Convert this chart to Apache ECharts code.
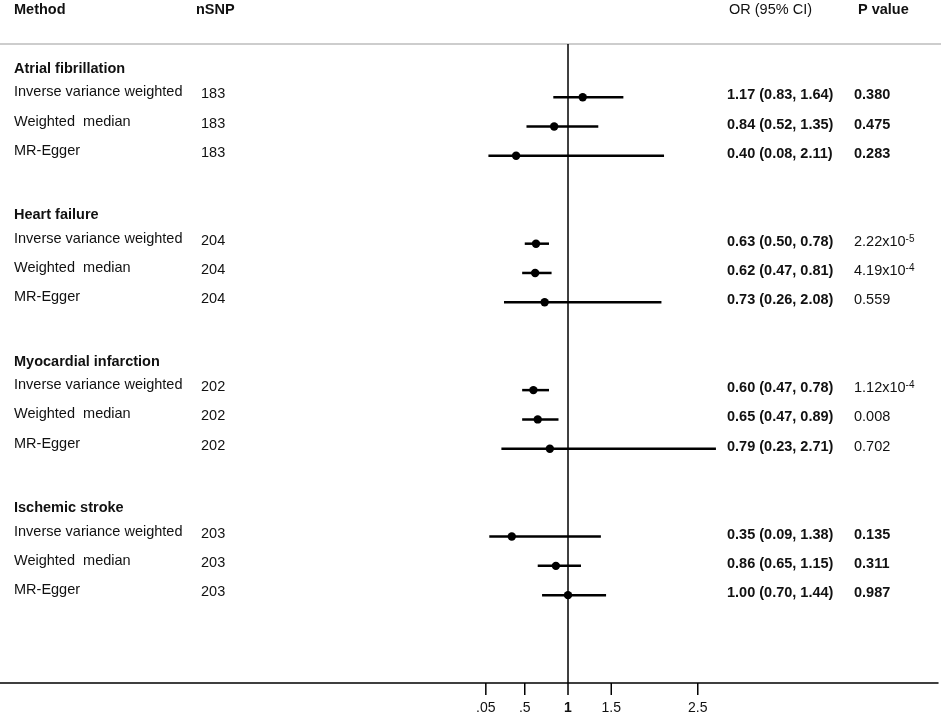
<!DOCTYPE html>
<html>
<head>
<meta charset="utf-8">
<script src="https://cdn.jsdelivr.net/npm/echarts@6/dist/echarts.min.js"></script>
<style>
  html, body { margin: 0; padding: 0; background: #fff; }
  #chart { width: 941px; height: 713px; }
</style>
</head>
<body>
<div id="chart"></div>
<script>
// forest plot data
const groups = ['Atrial fibrillation', 'Heart failure', 'Myocardial infarction', 'Ischemic stroke'];
const methods = ['Inverse variance weighted', 'Weighted  median', 'MR-Egger'];
const nSNP = [183, 204, 202, 203];
const orValues = [1.17, 0.84, 0.40, 0.63, 0.62, 0.73, 0.60, 0.65, 0.79, 0.35, 0.86, 1.00];
const ciLower = [0.83, 0.52, 0.08, 0.50, 0.47, 0.26, 0.47, 0.47, 0.23, 0.09, 0.65, 0.70];
const ciUpper = [1.64, 1.35, 2.11, 0.78, 0.81, 2.08, 0.78, 0.89, 2.71, 1.38, 1.15, 1.44];
const pValues = ['0.380', '0.475', '0.283', '2.22x10^-5', '4.19x10^-4', '0.559',
                 '1.12x10^-4', '0.008', '0.702', '0.135', '0.311', '0.987'];
const pBold = [1, 1, 1, 0, 0, 0, 0, 0, 0, 1, 1, 1];
const tickValues = [0.05, 0.5, 1, 1.5, 2.5];
const tickLabels = ['.05', '.5', '1', '1.5', '2.5'];

const FONT = '"Liberation Sans", Arial, sans-serif';
const INK = '#111';
const FS = 14.5;

// row index on the y axis: group title at 5g, its methods at 5g+1..5g+3
const rowIdx = i => Math.floor(i / 3) * 5 + 1 + (i % 3);

const ciData = orValues.map((v, i) => [v, ciLower[i], ciUpper[i], rowIdx(i)]);

// text cells: [rowIdx, text, x, bold, dy]
const cells = [];
groups.forEach((g, gi) => cells.push([gi * 5, g, 14, true, 1]));
orValues.forEach((v, i) => {
  const r = rowIdx(i);
  cells.push([r, methods[i % 3], 14, false, -5]);
  cells.push([r, String(nSNP[Math.floor(i / 3)]), 201, false, -3]);
  cells.push([r, v.toFixed(2) + ' (' + ciLower[i].toFixed(2) + ', ' + ciUpper[i].toFixed(2) + ')', 727, true, -2]);
  const p = pValues[i].split('^');
  cells.push([r, p.length > 1 ? p[0] + '{sup|' + p[1] + '}' : p[0], 854, !!pBold[i], -2]);
});

const chart = echarts.init(document.getElementById('chart'));

chart.setOption({
  animation: false,
  backgroundColor: '#fff',
  grid: { left: 0, right: 3, top: 0, bottom: 30 },
  xAxis: {
    type: 'value', min: -5.566, max: 5.277,
    axisLine: { show: true, onZero: false, lineStyle: { color: '#000', width: 1.5 } },
    axisTick: { show: false }, axisLabel: { show: false }, splitLine: { show: false }
  },
  yAxis: {
    type: 'value', inverse: true, min: -2.32, max: 21, show: false, splitLine: { show: false }
  },
  graphic: [
    { type: 'line', shape: { x1: 0, y1: 44, x2: 941, y2: 44 }, style: { stroke: '#bdbdbd', lineWidth: 1.5 } },
    { type: 'text', x: 14, y: 10, style: { text: 'Method', font: 'bold ' + FS + 'px ' + FONT, fill: INK, verticalAlign: 'middle' } },
    { type: 'text', x: 196, y: 10, style: { text: 'nSNP', font: 'bold ' + FS + 'px ' + FONT, fill: INK, verticalAlign: 'middle' } },
    { type: 'text', x: 729, y: 10, style: { text: 'OR (95% CI)', font: FS + 'px ' + FONT, fill: INK, verticalAlign: 'middle' } },
    { type: 'text', x: 858, y: 10, style: { text: 'P value', font: 'bold ' + FS + 'px ' + FONT, fill: INK, verticalAlign: 'middle' } }
  ],
  series: [
    {
      // reference line at OR = 1
      type: 'custom',
      data: [[1]],
      renderItem: (params, api) => {
        const top = api.coord([api.value(0), -0.818]);
        const bot = api.coord([api.value(0), 21]);
        return { type: 'line', shape: { x1: top[0], y1: top[1], x2: bot[0], y2: bot[1] },
                 style: { stroke: '#000', lineWidth: 1.5 } };
      }
    },
    {
      type: 'custom',
      data: ciData,
      renderItem: (params, api) => {
        const p = api.coord([api.value(0), api.value(3)]);
        const lo = api.coord([api.value(1), api.value(3)]);
        const hi = api.coord([api.value(2), api.value(3)]);
        return {
          type: 'group',
          children: [
            { type: 'line', shape: { x1: lo[0], y1: p[1], x2: hi[0], y2: p[1] }, style: { stroke: '#000', lineWidth: 2.5 } },
            { type: 'circle', shape: { cx: p[0], cy: p[1], r: 4.2 }, style: { fill: '#000' } }
          ]
        };
      }
    },
    {
      type: 'custom',
      data: cells.map(c => [c[0]]),
      renderItem: (params, api) => {
        const c = cells[params.dataIndex];
        const y = api.coord([0, c[0]])[1] + c[4];
        const weight = c[3] ? 'bold' : 'normal';
        return {
          type: 'text',
          x: c[2], y: y,
          style: {
            text: c[1],
            fill: INK,
            font: weight + ' ' + FS + 'px ' + FONT,
            verticalAlign: 'middle',
            rich: {
              sup: { fontSize: 10, fontFamily: FONT, fontWeight: weight, fill: INK, verticalAlign: 'top', lineHeight: 10, padding: [0, 0, 8, 0] }
            }
          }
        };
      }
    },
    {
      // x axis ticks and labels
      type: 'custom',
      data: tickValues.map((v, i) => [v, i]),
      renderItem: (params, api) => {
        const pt = api.coord([api.value(0), 21]);
        const lbl = tickLabels[api.value(1)];
        return {
          type: 'group',
          children: [
            { type: 'line', shape: { x1: pt[0], y1: pt[1], x2: pt[0], y2: pt[1] + 12 }, style: { stroke: '#000', lineWidth: 1.5 } },
            { type: 'text', x: pt[0], y: pt[1] + 25,
              style: { text: lbl, fill: INK, font: (lbl === '1' ? 'bold ' : '') + '14px ' + FONT, align: 'center', verticalAlign: 'middle' } }
          ]
        };
      }
    }
  ]
});
</script>
</body>
</html>
